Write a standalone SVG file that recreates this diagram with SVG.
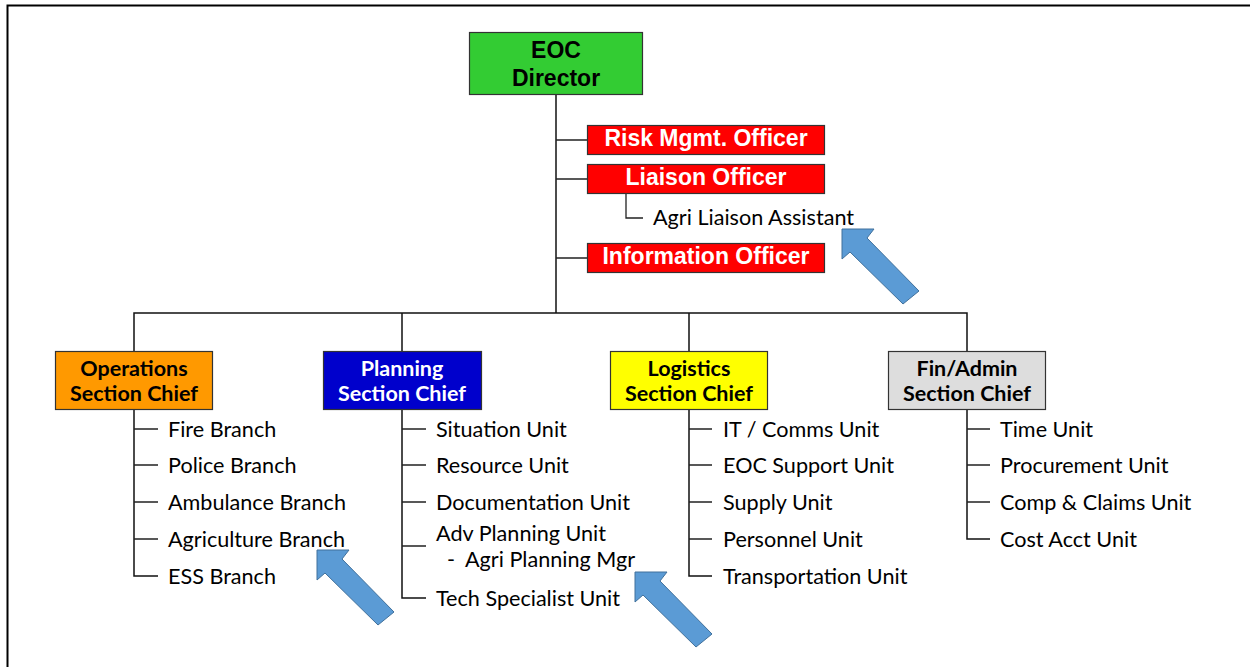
<svg xmlns="http://www.w3.org/2000/svg" width="1250" height="667" viewBox="0 0 1250 667">
<style>
.box{stroke:#333;stroke-width:1.2}
.ar{font-family:"Liberation Sans",Arial,sans-serif;font-weight:bold;font-size:23px;text-anchor:middle}
.sec{font-family:Lato,"Open Sans",sans-serif;font-weight:bold;font-size:21.5px;text-anchor:middle}
.it{font-family:Lato,"Open Sans",sans-serif;font-size:21.6px;fill:#000}
.ln{stroke:#111;stroke-width:1.5;fill:none}
.tk{stroke:#222;stroke-width:1.3;fill:none}
.arrow{fill:#5B9BD5;stroke:#41719C;stroke-width:1}
</style>
<defs>
<polygon id="bluearrow" class="arrow" points="0,0 32,0 25,9 77,62 61,75 8,23 0,30"/>
</defs>
<rect width="1250" height="667" fill="#fff"/>
<path d="M7.5,667 V5.5 H1250" fill="none" stroke="#000" stroke-width="2"/>

<g id="connectors">
<path class="ln" d="M556,95 V313"/>
<path class="tk" d="M556,140 H587 M556,179 H587 M556,258 H587"/>
<path class="tk" d="M626,194 V218 H643"/>
<path class="ln" d="M134,351 V313 H967 V351 M402,313 V351 M689,313 V351"/>
<path class="ln" d="M134,410 V576 H158"/>
<path class="tk" d="M134,429 H158 M134,465 H158 M134,502 H158 M134,539 H158"/>
<path class="ln" d="M402,410 V598 H426"/>
<path class="tk" d="M402,429 H426 M402,465 H426 M402,502 H426 M402,546 H426"/>
<path class="ln" d="M689,410 V576 H712"/>
<path class="tk" d="M689,429 H712 M689,465 H712 M689,502 H712 M689,539 H712"/>
<path class="ln" d="M967,410 V539 H990"/>
<path class="tk" d="M967,429 H990 M967,465 H990 M967,502 H990"/>
</g>

<g id="eoc-director">
<rect class="box" x="469.5" y="32.5" width="173" height="62" fill="#33CC33"/>
<text class="ar" x="556" y="58" fill="#000">EOC</text>
<text class="ar" x="556" y="86" fill="#000">Director</text>
</g>
<g id="risk-officer">
<rect class="box" x="587.5" y="125.5" width="237" height="29" fill="#FF0000"/>
<text class="ar" x="706" y="146" fill="#fff">Risk Mgmt. Officer</text>
</g>
<g id="liaison-officer">
<rect class="box" x="587.5" y="164.5" width="237" height="29" fill="#FF0000"/>
<text class="ar" x="706" y="185" fill="#fff">Liaison Officer</text>
</g>
<g id="agri-liaison">
<text class="it" x="653" y="225">Agri Liaison Assistant</text>
</g>
<g id="information-officer">
<rect class="box" x="587.5" y="243.5" width="237" height="29" fill="#FF0000"/>
<text class="ar" x="706" y="264" fill="#fff">Information Officer</text>
</g>

<g id="operations">
<rect class="box" x="55.5" y="351.5" width="157" height="58" fill="#FF9900"/>
<text class="sec" x="134" y="376" fill="#000">Operations</text>
<text class="sec" x="134" y="401" fill="#000">Section Chief</text>
</g>
<g id="operations-items">
<text class="it" x="168" y="437">Fire Branch</text>
<text class="it" x="168" y="473">Police Branch</text>
<text class="it" x="168" y="510">Ambulance Branch</text>
<text class="it" x="168" y="547">Agriculture Branch</text>
<text class="it" x="168" y="584">ESS Branch</text>
</g>

<g id="planning">
<rect class="box" x="323.5" y="351.5" width="158" height="58" fill="#0000CC"/>
<text class="sec" x="402" y="376" fill="#fff">Planning</text>
<text class="sec" x="402" y="401" fill="#fff">Section Chief</text>
</g>
<g id="planning-items">
<text class="it" x="436" y="437">Situation Unit</text>
<text class="it" x="436" y="473">Resource Unit</text>
<text class="it" x="436" y="510">Documentation Unit</text>
<text class="it" x="436" y="541">Adv Planning Unit</text>
<text class="it" x="447" y="567">-</text>
<text class="it" x="465" y="567">Agri Planning Mgr</text>
<text class="it" x="436" y="606">Tech Specialist Unit</text>
</g>

<g id="logistics">
<rect class="box" x="610.5" y="351.5" width="157" height="58" fill="#FFFF00"/>
<text class="sec" x="689" y="376" fill="#000">Logistics</text>
<text class="sec" x="689" y="401" fill="#000">Section Chief</text>
</g>
<g id="logistics-items">
<text class="it" x="723" y="437">IT / Comms Unit</text>
<text class="it" x="723" y="473">EOC Support Unit</text>
<text class="it" x="723" y="510">Supply Unit</text>
<text class="it" x="723" y="547">Personnel Unit</text>
<text class="it" x="723" y="584">Transportation Unit</text>
</g>

<g id="finadmin">
<rect class="box" x="888.5" y="351.5" width="157" height="58" fill="#DDDDDD"/>
<text class="sec" x="967" y="376" fill="#000">Fin/Admin</text>
<text class="sec" x="967" y="401" fill="#000">Section Chief</text>
</g>
<g id="finadmin-items">
<text class="it" x="1000" y="437">Time Unit</text>
<text class="it" x="1000" y="473">Procurement Unit</text>
<text class="it" x="1000" y="510">Comp &amp; Claims Unit</text>
<text class="it" x="1000" y="547">Cost Acct Unit</text>
</g>

<g id="arrows">
<use href="#bluearrow" x="842" y="229"/>
<use href="#bluearrow" x="317" y="550"/>
<use href="#bluearrow" x="635" y="572"/>
</g>
</svg>
